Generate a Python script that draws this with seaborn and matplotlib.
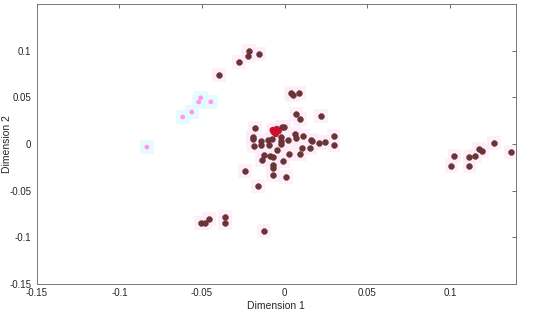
import matplotlib
matplotlib.use("Agg")
import matplotlib.pyplot as plt
import seaborn as sns
import pandas as pd

# main group (dark brown dots)
main_x = [-0.0218, -0.0224, -0.0157, -0.0278, -0.0399,
          0.1270, 0.1372, 0.1179, 0.1197, 0.1155, 0.1119, 0.1028, 0.1010, 0.1119,
          -0.0163, -0.0460, -0.0508, -0.0484, -0.0363, -0.0363, -0.0127,
          0.0036, 0.0048, 0.0085, 0.0067, 0.0091, 0.0218, -0.0181, -0.0018, -0.0006,
          -0.0193, -0.0193, -0.0145, -0.0103, -0.0079, -0.0024, -0.0024, -0.0024,
          0.0018, 0.0060, 0.0067, 0.0109, 0.0157, 0.0163, 0.0206, 0.0242, 0.0296,
          0.0296, -0.0187, -0.0145, -0.0097, -0.0048, 0.0103, 0.0151, 0.0024,
          0.0091, -0.0127, -0.0091, -0.0073, -0.0139, -0.0012, -0.0073, -0.0073,
          -0.0242, -0.0073, 0.0006]
main_y = [0.1000, 0.0946, 0.0968, 0.0882, 0.0742,
          0.0011, -0.0086, -0.0054, -0.0075, -0.0129, -0.0140, -0.0129, -0.0237, -0.0237,
          -0.0452, -0.0806, -0.0850, -0.0850, -0.0785, -0.0850, -0.0935,
          0.0548, 0.0527, 0.0548, 0.0323, 0.0269, 0.0301, 0.0172, 0.0183, 0.0183,
          0.0075, 0.0054, 0.0032, 0.0043, 0.0054, 0.0075, 0.0032, 0.0000,
          0.0043, 0.0108, 0.0065, 0.0086, 0.0043, 0.0032, 0.0011, 0.0022, 0.0086,
          -0.0011, -0.0022, -0.0011, -0.0011, -0.0065, -0.0043, -0.0043, -0.0108,
          -0.0108, -0.0118, -0.0129, -0.0140, -0.0172, -0.0183, -0.0226, -0.0258,
          -0.0290, -0.0333, -0.0355]

# red group
red_x = [-0.0066, -0.0048, -0.0054, -0.0036, -0.0072]
red_y = [0.0129, 0.0161, 0.0108, 0.0140, 0.0150]

# cyan group (pink dots)
cyan_x = [-0.0508, -0.0447, -0.0520, -0.0562, -0.0617, -0.0834]
cyan_y = [0.0495, 0.0452, 0.0452, 0.0344, 0.0290, -0.0032]

main = pd.DataFrame({"x": main_x, "y": main_y})
red = pd.DataFrame({"x": red_x, "y": red_y})
cyan = pd.DataFrame({"x": cyan_x, "y": cyan_y})

sns.set_style("white")
plt.rcParams['font.family'] = ['Liberation Sans', 'DejaVu Sans']

fig = plt.figure(figsize=(5.5, 3.16), dpi=100)
ax = fig.add_axes([0.067, 0.101, 0.871, 0.886])

# faint square halos behind the dots
sns.scatterplot(data=main, x="x", y="y", marker="s", s=100, color="#fdebf7",
                edgecolor="none", alpha=0.7, ax=ax, zorder=1)
sns.scatterplot(data=red, x="x", y="y", marker="s", s=100, color="#fdebf7",
                edgecolor="none", alpha=0.7, ax=ax, zorder=1)
sns.scatterplot(data=cyan, x="x", y="y", marker="s", s=100, color="#e2fbfe",
                edgecolor="none", alpha=0.8, ax=ax, zorder=1)

# dots
sns.scatterplot(data=main, x="x", y="y", s=18, color="#6b3437",
                edgecolor="#5a3030", linewidth=0.3, ax=ax, zorder=3)
sns.scatterplot(data=red, x="x", y="y", s=22, color="#cc1030",
                edgecolor="none", ax=ax, zorder=4)
sns.scatterplot(data=cyan, x="x", y="y", s=12, color="#ff99ec",
                edgecolor="none", ax=ax, zorder=3)

ax.set_xlim(-0.15, 0.14)
ax.set_ylim(-0.15, 0.15)
ax.set_xticks([-0.15, -0.1, -0.05, 0, 0.05, 0.1])
ax.set_xticklabels(["-0.15", "-0.1", "-0.05", "0", "0.05", "0.1"])
ax.set_yticks([-0.15, -0.1, -0.05, 0, 0.05, 0.1])
ax.set_yticklabels(["-0.15", "-0.1", "-0.05", "0", "0.05", "0.1"])
ax.tick_params(direction="in", length=3, width=0.6, colors="#555555",
               labelcolor="#262626", labelsize=7, top=True, right=True)
ax.tick_params(axis="x", pad=3)
ax.tick_params(axis="y", pad=4)
for s in ax.spines.values():
    s.set_color("#777777")
    s.set_linewidth(0.7)
ax.set_xlabel("Dimension 1", fontsize=7.5, color="#262626", labelpad=2)
ax.set_ylabel("Dimension 2", fontsize=7.5, color="#262626")
ax.yaxis.set_label_coords(-0.052, 0.5)

fig.savefig("out.png", dpi=100)
